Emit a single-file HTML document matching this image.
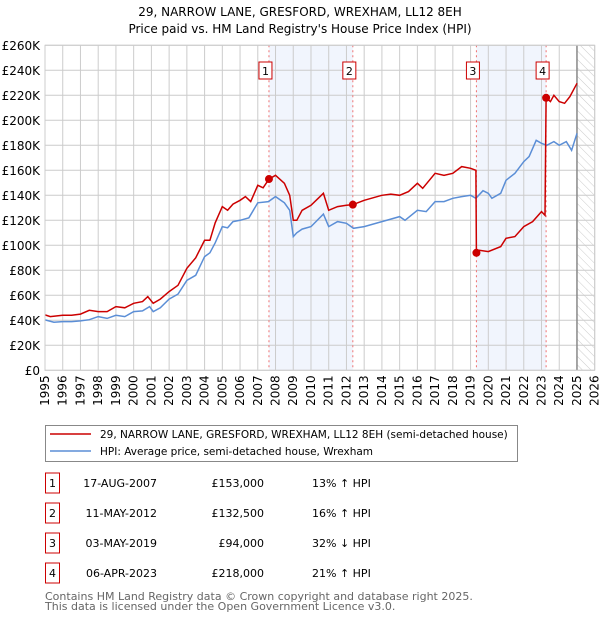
<!DOCTYPE html>
<html><head><meta charset="utf-8"><style>
body{margin:0;background:#fff;font-family:"DejaVu Sans","Liberation Sans",sans-serif;}
svg text{font-family:"DejaVu Sans","Liberation Sans",sans-serif;}
</style></head><body>
<svg id="c" width="600" height="620" xmlns="http://www.w3.org/2000/svg"></svg>
<script>
const hpiYears=[1995,1995.5,1996,1996.5,1997,1997.5,1998,1998.5,1999,1999.5,2000,2000.5,2000.9,2001.1,2001.5,2002,2002.5,2003,2003.5,2004,2004.3,2004.6,2005,2005.3,2005.6,2006,2006.5,2007,2007.6,2008,2008.5,2008.8,2009,2009.2,2009.5,2010,2010.7,2011,2011.5,2012,2012.4,2013,2013.5,2014,2014.5,2015,2015.3,2016,2016.5,2017,2017.5,2018,2018.5,2019,2019.3,2019.7,2020,2020.2,2020.7,2021,2021.5,2022,2022.3,2022.7,2023,2023.3,2023.7,2024,2024.4,2024.7,2025];
const hpiValues=[40.3,38.5,39,39,39.5,40.5,43,41.5,44,43,47,47.5,51,47,50,57,61,72,76,91,94,102,115,114,119,120,122,134,135,139,134,128,107,110,113,115,125,115,119,117.6,113.6,115,117,119,121,123,120,128,127,135,135,137.6,139,140,137.6,143.7,141.6,137.6,141.6,152,157.6,167,171,184,181.6,180,183,180,183,176,189.6];
const redYears=[1995,1995.3,1996,1996.5,1997,1997.5,1998,1998.5,1999,1999.5,2000,2000.5,2000.8,2001.1,2001.5,2002,2002.5,2003,2003.5,2004,2004.3,2004.6,2005,2005.3,2005.6,2006,2006.3,2006.6,2007,2007.3,2007.63,2008,2008.5,2008.8,2009,2009.2,2009.5,2010,2010.7,2011,2011.5,2012,2012.36,2013,2013.5,2014,2014.5,2015,2015.5,2016,2016.3,2017,2017.5,2018,2018.5,2019,2019.3,2019.33,2019.5,2020,2020.7,2021,2021.5,2022,2022.5,2023,2023.2,2023.26,2023.5,2023.7,2024,2024.3,2024.6,2025];
const redValues=[44.3,43,44,44,45,48,47,47,51,50,53.6,55,59,53.6,57,63,68,81.6,90,104,104,118,131,128,133,136,139,135,148,146,153,156,149.6,140,120,120,128,132,141.6,128,131,132,132.5,136,138,140,141,140,143,149.6,145.6,157.6,156,157.6,163,161.6,160,94,96,95,99,105.6,107,115,119,127,124,218,215,220,215,213.6,219,229.6];
const saleYears=[2007.63,2012.36,2019.33,2023.26];
const saleValues=[153,132.5,94,218];
const saleLabels=["1","2","3","4"];
const yTicks=[0,20,40,60,80,100,120,140,160,180,200,220,240,260];
const xTicks=[1995,1996,1997,1998,1999,2000,2001,2002,2003,2004,2005,2006,2007,2008,2009,2010,2011,2012,2013,2014,2015,2016,2017,2018,2019,2020,2021,2022,2023,2024,2025,2026];
const L=45,R=594.7,T=45.3,B=370.3;
const X=y=>L+(y-1995)*(R-L)/31;
const Y=v=>B-v*(B-T)/260;
const svg=document.getElementById('c');
const NS='http://www.w3.org/2000/svg';
function mk(tag,attrs,parent){const e=document.createElementNS(NS,tag);for(const k in attrs)e.setAttribute(k,attrs[k]);(parent||svg).appendChild(e);return e;}
function tx(x,y,s,attrs){const e=mk('text',Object.assign({x:x,y:y},attrs||{}));e.textContent=s;return e;}
const defs=mk('defs',{});
const pat=mk('pattern',{id:'hatch',width:6,height:6,patternUnits:'userSpaceOnUse',patternTransform:'rotate(-45)'},defs);
mk('line',{x1:0,y1:0,x2:0,y2:6,stroke:'#ccc','stroke-width':1},pat);
let t=tx(300,16,'29, NARROW LANE, GRESFORD, WREXHAM, LL12 8EH',{'text-anchor':'middle','font-size':12,fill:'#000'});

t=tx(300,33,"Price paid vs. HM Land Registry's House Price Index (HPI)",{'text-anchor':'middle','font-size':12,fill:'#000'});

for(let i=0;i<4;i+=2){const r=mk('rect',{x:X(saleYears[i]),y:T,width:X(saleYears[i+1])-X(saleYears[i]),height:B-T,fill:'#f1f5fd'});
}
let h=mk('rect',{x:X(2025),y:T,width:R-X(2025),height:B-T,fill:'url(#hatch)'});

for(const v of yTicks){const g=mk('line',{x1:L,x2:R,y1:Y(v),y2:Y(v),stroke:'#ccc','stroke-width':1});

const lb=tx(L-5,Y(v)+4.5,'£'+(v===0?'0':v+'K'),{'text-anchor':'end','font-size':12,fill:'#000'});
}
for(const y of xTicks){const g=mk('line',{x1:X(y),x2:X(y),y1:T,y2:B,stroke:'#ccc','stroke-width':1});

const lb=tx(X(y)+4,B+5,String(y),{'text-anchor':'end','font-size':12,fill:'#000',transform:`rotate(-90 ${X(y)+4} ${B+5})`});
}
let vl=mk('line',{x1:X(2025),x2:X(2025),y1:T,y2:B,stroke:'#888','stroke-width':1.5});

saleYears.forEach((s,i)=>{const l=mk('line',{x1:X(s),x2:X(s),y1:T,y2:B,stroke:'#f07070','stroke-width':1,'stroke-dasharray':'2,3'});
});
function path(xs,vs){return xs.map((x,i)=>(i?'L':'M')+X(x).toFixed(1)+','+Y(vs[i]).toFixed(1)).join('');}
let p=mk('path',{d:path(hpiYears,hpiValues),fill:'none',stroke:'#5b8ed6','stroke-width':1.5});

p=mk('path',{d:path(redYears,redValues),fill:'none',stroke:'#cc0000','stroke-width':1.5});

saleYears.forEach((s,i)=>{const c=mk('circle',{cx:X(s),cy:Y(saleValues[i]),r:4,fill:'#cc0000'});

const bx=X(s)-7-3;const b=mk('rect',{x:bx,y:62,width:13,height:17,fill:'#fff',stroke:'#cc0000','stroke-width':1});

const lt=tx(bx+6.5,75,saleLabels[i],{'text-anchor':'middle','font-size':11,fill:'#000'});
});
let fr=mk('rect',{x:L,y:T,width:R-L,height:B-T,fill:'none',stroke:'#ccc','stroke-width':1});

const lg=mk('g',{});
mk('rect',{x:45.5,y:425.5,width:472,height:36,fill:'#fff',stroke:'#888'},lg);
let e=mk('line',{x1:50,x2:91,y1:434,y2:434,stroke:'#cc0000','stroke-width':1.5},lg);

e=tx(100,438,'29, NARROW LANE, GRESFORD, WREXHAM, LL12 8EH (semi-detached house)',{'font-size':10.5,fill:'#000'});lg.appendChild(e);

e=mk('line',{x1:50,x2:91,y1:451,y2:451,stroke:'#5b8ed6','stroke-width':1.5},lg);

e=tx(100,455,'HPI: Average price, semi-detached house, Wrexham',{'font-size':10.5,fill:'#000'});lg.appendChild(e);

const dates=['17-AUG-2007','11-MAY-2012','03-MAY-2019','06-APR-2023'];
const prices=['£153,000','£132,500','£94,000','£218,000'];
const rel=['13% ↑ HPI','16% ↑ HPI','32% ↓ HPI','21% ↑ HPI'];
for(let i=0;i<4;i++){const cy=483+30*i;
let r=mk('rect',{x:45.5,y:cy-10,width:14,height:20,fill:'none',stroke:'#cc0000','stroke-width':1});

let a=tx(52.5,cy+4,saleLabels[i],{'text-anchor':'middle','font-size':11,fill:'#000'});

a=tx(157,cy+4,dates[i],{'text-anchor':'end','font-size':11,fill:'#000'});

a=tx(264,cy+4,prices[i],{'text-anchor':'end','font-size':11,fill:'#000'});

a=tx(312,cy+4,rel[i],{'font-size':11,fill:'#000'});
}
let f=tx(45,600,'Contains HM Land Registry data © Crown copyright and database right 2025.',{'font-size':11,fill:'#666'});

f=tx(45,610,'This data is licensed under the Open Government Licence v3.0.',{'font-size':11,fill:'#666'});

</script>
</body></html>
